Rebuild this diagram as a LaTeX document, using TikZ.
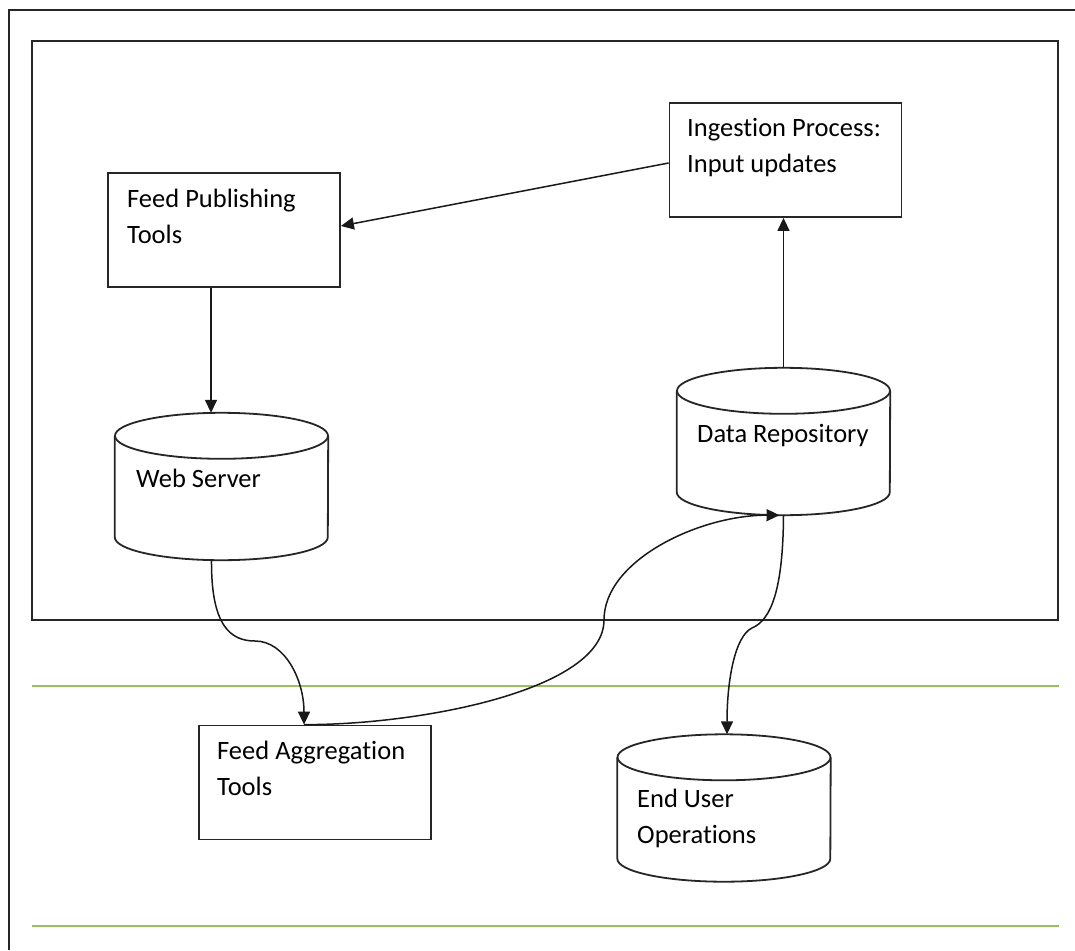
\documentclass[tikz,border=0pt]{standalone}
\usepackage{fontspec}
\setmainfont{Carlito}[RawFeature={-liga;-clig;-dlig;-calt}]
\usetikzlibrary{arrows.meta,calc}

% Drum (database) outline drawn around a named rectangular node.
% #1 node name, #2 x radius, #3 y radius of the end ellipses
\newcommand\drumshape[3]{%
  \draw[outline] ($(#1.north west)+(0pt,-#3)$) -- ($(#1.south west)+(0pt,#3)$)
    arc[start angle=180,end angle=360,x radius=#2,y radius=#3]
    -- ($(#1.north east)+(0pt,-#3)$);
  \draw[outline] ($(#1.north)+(0pt,-#3)$) ellipse[x radius=#2,y radius=#3];
}

\definecolor{bandgreen}{RGB}{155,191,92}

\begin{document}
\begin{tikzpicture}[x=1pt,y=-1pt,
  outline/.style={draw=black!85,line width=1.8pt},
  box/.style={outline,rectangle,minimum width=232pt,minimum height=114pt,inner sep=0pt},
  drum/.style={rectangle,minimum width=213pt,minimum height=147pt,inner sep=0pt},
  % anchored at the baseline of the last line
  label/.style={anchor=base west,align=left,inner sep=0pt,
    font=\fontsize{26.5}{36}\selectfont},
  link/.style={draw=black!90,line width=1.5pt,-{Triangle[length=13pt,width=12pt]}},
  band/.style={draw=bandgreen,line width=2.2pt}]

  \useasboundingbox[fill=white] (0,0) rectangle (1075,950);

  % page frame and hosting area
  \draw[outline] (9,950) -- (9,10) -- (1075,10);
  \draw[outline] (32,41) rectangle (1058,620);

  % separator lines
  \draw[band] (32,686) -- (1059,686);
  \draw[band] (32,926) -- (1059,926);

  % boxes
  \node[box] (fpt) at (224,230) {};
  \node[box] (ing) at (785.5,160) {};
  \node[box] (fat) at (315,782.5) {};

  % drums
  \node[drum] (ws) at (221.5,486.5) {};
  \drumshape{ws}{106.5pt}{23pt}
  \node[drum] (dr) at (783.5,441.5) {};
  \drumshape{dr}{106.5pt}{23pt}
  \node[drum] (eu) at (724,808) {};
  \drumshape{eu}{106.5pt}{23pt}

  % labels
  \node[label] (fpt-t) at (127,243) {Feed Publishing\\Tools};
  \node[label] (ing-t) at (687,172) {Ingestion Process:\\Input updates};
  \node[label] (fat-t) at (217,795) {Feed Aggregation\\Tools};
  \node[label] (ws-t) at (136,487) {Web Server};
  \node[label] (dr-t) at (697,442) {Data Repository};
  \node[label] (eu-t) at (637,843) {End User\\Operations};

  % connectors
  \draw[link] ([yshift=-3pt]ing.west) -- ([yshift=4pt]fpt.east);
  \draw[link] ([xshift=-13pt]fpt.south) -- ([xshift=-10.5pt]ws.north);
  \draw[link] (dr.north) -- (dr.north |- ing.south);
  \draw[link] ([xshift=-10pt]ws.south)
    .. controls (211,625) and (230,641) .. (255,641)
    .. controls (285,641) and (304,680) .. ([xshift=-11pt]fat.north);
  \draw[link] ([xshift=-11pt]fat.north)
    .. controls (420,725) and (604,690) .. (604,620)
    .. controls (604,560) and (700,515) .. ([xshift=-4pt]dr.south);
  \draw[link] (dr.south)
    .. controls (783,590) and (771,620) .. (752,628)
    .. controls (735,636) and (727,680) .. ([xshift=3pt]eu.north);
\end{tikzpicture}
\end{document}
